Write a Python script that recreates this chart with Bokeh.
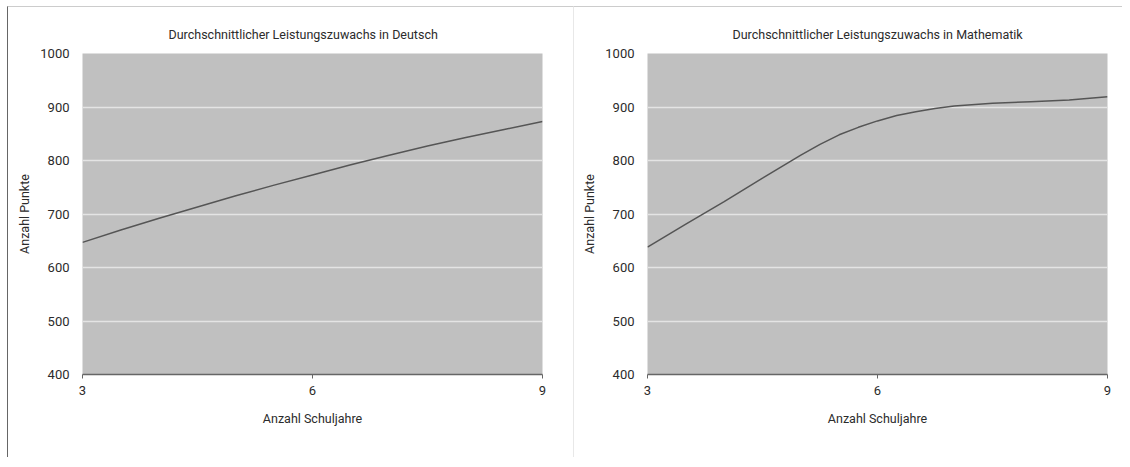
from bokeh.plotting import figure
from bokeh.layouts import row
from bokeh.models import FixedTicker, Range1d
from bokeh.embed import file_html
from bokeh.resources import INLINE

# Data
schuljahre_deutsch = [3, 3.5, 4, 4.5, 5, 5.5, 6, 6.5, 7, 7.5, 8, 8.5, 9]
deutsch = [647, 670, 692, 713, 734, 754, 773, 792, 810, 827, 843, 858, 873]
schuljahre_mathe = [3, 3.5, 4, 4.5, 5, 5.25, 5.5, 5.75, 6, 6.25, 6.5, 6.75, 7, 7.5, 8, 8.5, 9]
mathematik = [638, 681, 723, 767, 810, 830, 848, 862, 874, 884, 891, 897, 902, 907, 910, 913, 919]
x_ticks = [3, 6, 9]
y_ticks = [400, 500, 600, 700, 800, 900, 1000]
titles = ["Durchschnittlicher Leistungszuwachs in Deutsch",
          "Durchschnittlicher Leistungszuwachs in Mathematik"]

FONT = "Roboto"
TXT = "#2b2b2b"


def make(title, xs, ys, left, right, offset, border_style, margin):
    width = left + 459 + right
    p = figure(width=width, height=450, output_backend="svg", toolbar_location=None,
               x_range=Range1d(3, 9), y_range=Range1d(400, 1000),
               min_border_left=left, min_border_right=right, min_border_top=46,
               min_border_bottom=84, title=title, styles=border_style, margin=margin)
    p.frame_width = 459
    p.frame_height = 320
    p.title.align = "left"
    p.title.offset = offset
    p.title.text_font = FONT
    p.title.text_font_size = "12.5px"
    p.title.text_font_style = "normal"
    p.title.text_color = TXT
    p.title.standoff = 24
    p.background_fill_color = "#c0c0c0"
    p.border_fill_color = "white"
    p.outline_line_color = None

    p.line(xs, ys, line_color="#555555", line_width=1.5)

    xa = p.xaxis[0]
    xa.ticker = FixedTicker(ticks=x_ticks)
    xa.axis_line_color = "#666666"
    xa.axis_line_width = 1.5
    xa.major_tick_line_color = "#666666"
    xa.major_tick_in = 0
    xa.major_tick_out = 4
    xa.minor_tick_line_color = None
    xa.major_label_text_font = FONT
    xa.major_label_text_font_size = "13px"
    xa.major_label_text_color = TXT
    xa.major_label_standoff = 7
    xa.axis_label = "Anzahl Schuljahre"
    xa.axis_label_text_font = FONT
    xa.axis_label_text_font_size = "12.5px"
    xa.axis_label_text_font_style = "normal"
    xa.axis_label_text_color = TXT
    xa.axis_label_standoff = 13

    ya = p.yaxis[0]
    ya.ticker = FixedTicker(ticks=y_ticks)
    ya.axis_line_color = None
    ya.major_tick_line_color = None
    ya.major_tick_in = 0
    ya.major_tick_out = 0
    ya.minor_tick_line_color = None
    ya.major_label_text_font = FONT
    ya.major_label_text_font_size = "13px"
    ya.major_label_text_color = TXT
    ya.major_label_standoff = 13
    ya.axis_label = "Anzahl Punkte"
    ya.axis_label_text_font = FONT
    ya.axis_label_text_font_size = "12.5px"
    ya.axis_label_text_font_style = "normal"
    ya.axis_label_text_color = TXT
    ya.axis_label_standoff = 5

    p.xgrid.grid_line_color = None
    p.ygrid.grid_line_color = "#e4e4e4"
    p.ygrid.grid_line_width = 1.5
    return p


p1 = make(titles[0], schuljahre_deutsch, deutsch, 74, 32, 86,
          {"border-left": "1px solid #666666", "border-top": "1px solid #cccccc"},
          (6, 0, 0, 7))
p2 = make(titles[1], schuljahre_mathe, mathematik, 73, 16, 85,
          {"border-left": "1px solid #e8e8e8", "border-top": "1px solid #cccccc"},
          (6, 0, 0, 0))

layout = row(p1, p2)
open("out.html", "w").write(file_html(layout, INLINE))
